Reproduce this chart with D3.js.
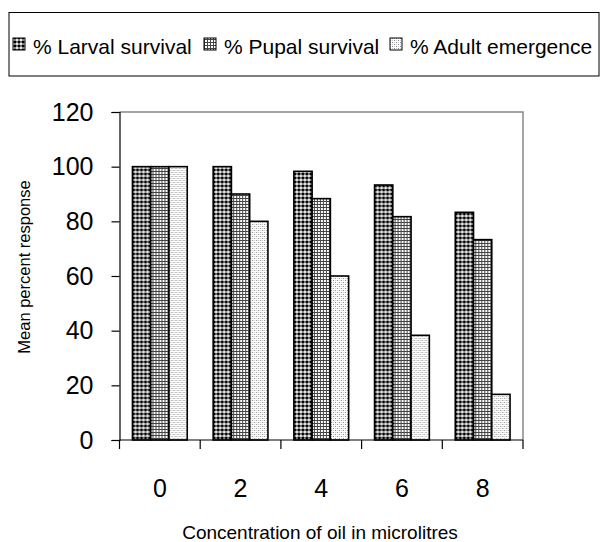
<!DOCTYPE html>
<html>
<head>
<meta charset="utf-8">
<script src="https://cdn.jsdelivr.net/npm/d3@7"></script>
<style>
  body { margin: 0; background: #fff; }
  svg { display: block; font-family: Arial, "Liberation Sans", sans-serif; }
</style>
</head>
<body>
<svg id="chart"></svg>
<script>
// data
let categories = ['0', '2', '4', '6', '8']
let seriesNames = ['% Larval survival', '% Pupal survival', '% Adult emergence']
let larval = [100, 100, 98.3, 93.3, 83.3]
let pupal = [100, 90, 88.3, 81.7, 73.3]
let adult = [100, 80, 60, 38.3, 16.7]
let yTicks = [0, 20, 40, 60, 80, 100, 120]

let width = 600
let height = 542
let plotLeft = 119.5
let plotRight = 523
let plotTop = 112
let plotBottom = 440

let svg = d3.select('#chart').attr('width', width).attr('height', height)

// fill patterns, one per series
let defs = svg.append('defs')

let p1 = defs.append('pattern').attr('id', 'pat0')
    .attr('patternUnits', 'userSpaceOnUse').attr('width', 4).attr('height', 4)
p1.append('rect').attr('width', 4).attr('height', 4).attr('fill', '#fff')
p1.append('rect').attr('x', 0.5).attr('y', 0.5).attr('width', 3).attr('height', 3)
    .attr('rx', 0.8).attr('fill', '#000')

let p2 = defs.append('pattern').attr('id', 'pat1')
    .attr('patternUnits', 'userSpaceOnUse').attr('width', 3).attr('height', 3)
p2.append('rect').attr('width', 3).attr('height', 3).attr('fill', '#fff')
p2.append('rect').attr('width', 3).attr('height', 1).attr('fill', '#444')
p2.append('rect').attr('width', 1).attr('height', 3).attr('fill', '#444')

let p3 = defs.append('pattern').attr('id', 'pat2')
    .attr('patternUnits', 'userSpaceOnUse').attr('width', 4).attr('height', 4)
p3.append('rect').attr('width', 4).attr('height', 4).attr('fill', '#fff')
p3.append('rect').attr('x', 0).attr('y', 0).attr('width', 1).attr('height', 1).attr('fill', '#888')
p3.append('rect').attr('x', 2).attr('y', 2).attr('width', 1).attr('height', 1).attr('fill', '#888')
p3.append('rect').attr('x', 2).attr('y', 0).attr('width', 1).attr('height', 1).attr('fill', '#ccc')
p3.append('rect').attr('x', 0).attr('y', 2).attr('width', 1).attr('height', 1).attr('fill', '#ccc')

// scales
let x0 = d3.scaleBand().domain(categories).range([plotLeft, plotRight])
let x1 = d3.scaleBand().domain(seriesNames).range([0, x0.bandwidth()]).paddingOuter(0.71)
let y = d3.scaleLinear().domain([0, 120]).range([plotBottom, plotTop])

let rows = categories.map((c, i) => ({
    cat: c,
    vals: [larval[i], pupal[i], adult[i]].map((v, j) => ({ name: seriesNames[j], idx: j, v: v }))
}))

// plot frame (top and right in grey)
svg.append('path')
    .attr('d', `M${plotLeft},${plotTop}H${plotRight}V${plotBottom}`)
    .attr('fill', 'none').attr('stroke', '#888').attr('stroke-width', 1.5)

// bars
svg.append('g').selectAll('g')
    .data(rows)
    .enter()
    .append('g')
    .attr('transform', (d) => `translate(${x0(d.cat)},0)`)
    .selectAll('rect')
    .data((d) => d.vals)
    .enter()
    .append('rect')
    .attr('x', (d) => x1(d.name))
    .attr('y', (d) => y(d.v))
    .attr('width', x1.bandwidth())
    .attr('height', (d) => y(0) - y(d.v))
    .attr('fill', (d) => `url(#pat${d.idx})`)
    .attr('stroke', '#000')
    .attr('stroke-width', 1.6)

// y axis
let yAxis = d3.axisLeft(y).tickValues(yTicks).tickSize(8).tickPadding(18)
let gy = svg.append('g')
    .attr('transform', `translate(${plotLeft},0)`)
    .call(yAxis)
gy.select('.domain').attr('stroke', '#000').attr('stroke-width', 1.2)
gy.selectAll('.tick line').attr('stroke', '#000').attr('stroke-width', 1.2)
gy.selectAll('.tick text').attr('font-size', 25).attr('fill', '#000')
    .attr('font-family', 'Arial, "Liberation Sans", sans-serif')

// x axis: labels at band centres, ticks at band edges
let xAxis = d3.axisBottom(x0).tickSize(0).tickPadding(39)
let gx = svg.append('g')
    .attr('transform', `translate(0,${plotBottom})`)
    .call(xAxis)
gx.select('.domain').remove()
gx.selectAll('.tick text').attr('font-size', 25).attr('fill', '#000')
    .attr('font-family', 'Arial, "Liberation Sans", sans-serif')

let edges = categories.map((c) => x0(c)).concat([x0(categories[categories.length - 1]) + x0.bandwidth()])
svg.append('line')
    .attr('x1', plotLeft).attr('x2', plotRight).attr('y1', plotBottom).attr('y2', plotBottom)
    .attr('stroke', '#000').attr('stroke-width', 1.2)
svg.append('g').selectAll('line')
    .data(edges)
    .enter()
    .append('line')
    .attr('x1', (d) => d).attr('x2', (d) => d)
    .attr('y1', plotBottom).attr('y2', plotBottom + 9)
    .attr('stroke', '#000').attr('stroke-width', 1.2)

// axis titles
svg.append('text')
    .attr('x', 320).attr('y', 539)
    .attr('text-anchor', 'middle')
    .attr('font-size', 19)
    .text('Concentration of oil in microlitres')

svg.append('text')
    .attr('transform', 'translate(30,267) rotate(-90)')
    .attr('text-anchor', 'middle')
    .attr('font-size', 16.5)
    .text('Mean percent response')

// legend
svg.append('rect')
    .attr('x', 9).attr('y', 12.5).attr('width', 590).attr('height', 63.5)
    .attr('fill', '#fff').attr('stroke', '#000').attr('stroke-width', 1)

let legendX = [13, 204, 390]
let lg = svg.append('g').selectAll('g')
    .data(seriesNames)
    .enter()
    .append('g')
    .attr('transform', (d, i) => `translate(${legendX[i]},0)`)
lg.append('rect')
    .attr('x', 0).attr('y', 38).attr('width', 12).attr('height', 12)
    .attr('fill', (d, i) => `url(#pat${i})`)
    .attr('stroke', '#000').attr('stroke-width', 1)
lg.append('text')
    .attr('x', 20).attr('y', 54)
    .attr('font-size', 21)
    .text((d) => d)
</script>
</body>
</html>
